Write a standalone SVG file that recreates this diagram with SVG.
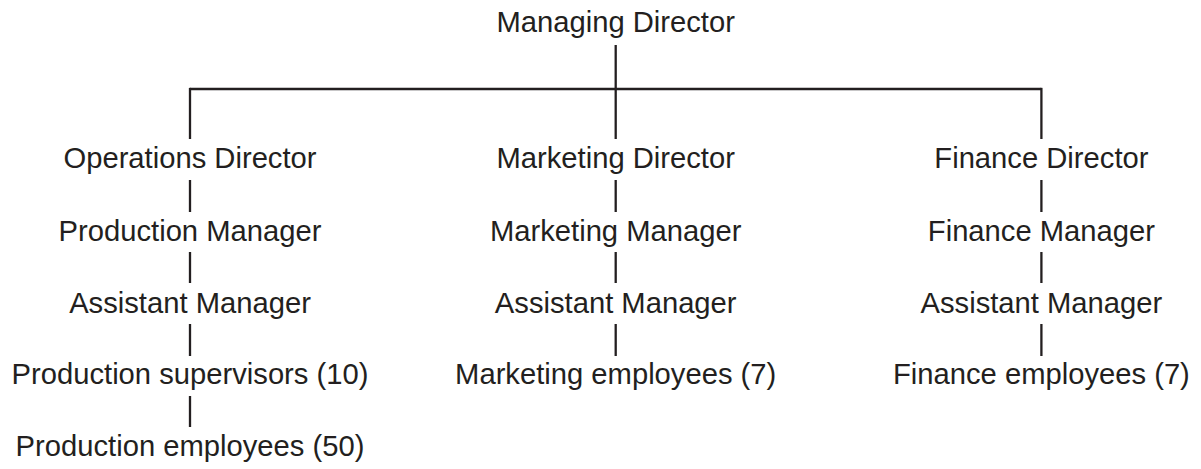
<svg xmlns="http://www.w3.org/2000/svg" width="1201" height="469" viewBox="0 0 1201 469">
<style>
text{font-family:"Liberation Sans",Arial,Helvetica,sans-serif;font-size:29.2px;fill:#231f20;text-anchor:middle}
line{stroke:#231f20;stroke-width:2.3;fill:none}
</style>
<rect width="1201" height="469" fill="#ffffff"/>
<g id="connectors">
<line x1="615.7" y1="45" x2="615.7" y2="139"/>
<line x1="190" y1="89" x2="1041.4" y2="89"/>
<line x1="190" y1="87.85" x2="190" y2="139"/>
<line x1="1041.4" y1="87.85" x2="1041.4" y2="139"/>
<line x1="190" y1="180" x2="190" y2="212"/>
<line x1="190" y1="252" x2="190" y2="283"/>
<line x1="190" y1="324" x2="190" y2="356"/>
<line x1="190" y1="396" x2="190" y2="427"/>
<line x1="615.7" y1="180" x2="615.7" y2="212"/>
<line x1="615.7" y1="252" x2="615.7" y2="283"/>
<line x1="615.7" y1="324" x2="615.7" y2="356"/>
<line x1="1041.4" y1="180" x2="1041.4" y2="212"/>
<line x1="1041.4" y1="252" x2="1041.4" y2="283"/>
<line x1="1041.4" y1="324" x2="1041.4" y2="356"/>
</g>
<g id="managing-director"><text x="615.7" y="31.7">Managing Director</text></g>
<g id="operations-director"><text x="190" y="168.2">Operations Director</text></g>
<g id="production-manager"><text x="190" y="240.7">Production Manager</text></g>
<g id="ops-assistant-manager"><text x="190" y="312.7">Assistant Manager</text></g>
<g id="production-supervisors"><text x="190" y="384.2">Production supervisors (10)</text></g>
<g id="production-employees"><text x="190" y="455.7">Production employees (50)</text></g>
<g id="marketing-director"><text x="615.7" y="168.2">Marketing Director</text></g>
<g id="marketing-manager"><text x="615.7" y="240.7">Marketing Manager</text></g>
<g id="mkt-assistant-manager"><text x="615.7" y="312.7">Assistant Manager</text></g>
<g id="marketing-employees"><text x="615.7" y="384.2">Marketing employees (7)</text></g>
<g id="finance-director"><text x="1041.4" y="168.2">Finance Director</text></g>
<g id="finance-manager"><text x="1041.4" y="240.7">Finance Manager</text></g>
<g id="fin-assistant-manager"><text x="1041.4" y="312.7">Assistant Manager</text></g>
<g id="finance-employees"><text x="1041.4" y="384.2">Finance employees (7)</text></g>
</svg>
